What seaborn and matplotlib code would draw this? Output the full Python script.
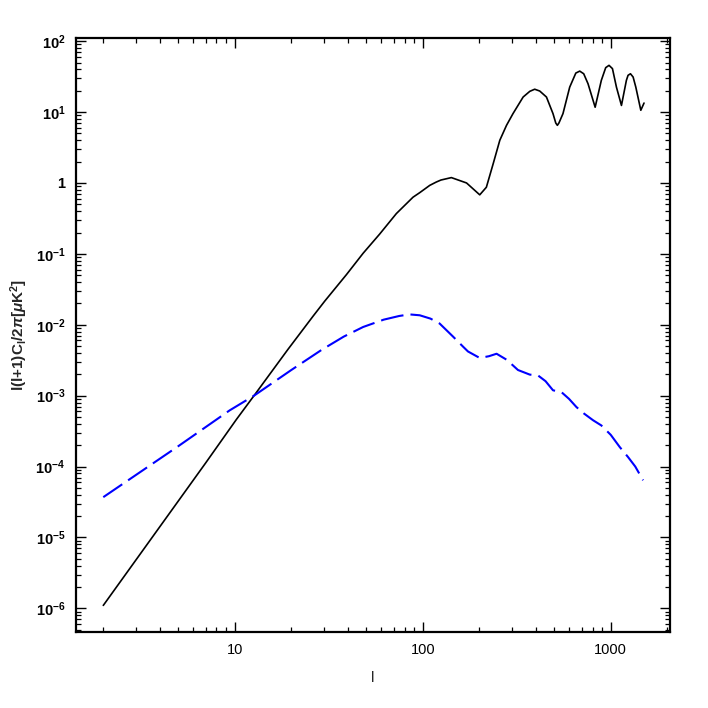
import matplotlib
matplotlib.use("Agg")
import matplotlib.pyplot as plt
import matplotlib.ticker as mticker
import numpy as np
import pandas as pd
import seaborn as sns

# values
ell_black = [2, 4, 7, 10.2, 12.67, 19.2, 26.1, 30.1, 39.3, 48.2, 59, 72.4, 88.8, 96.4, 109, 118,
             125, 142, 171, 201, 218, 237, 257, 279, 302, 342, 371, 394, 419, 455, 493, 510,
             520, 530, 557, 605, 652, 684, 718, 757, 826, 891, 940, 979, 1021, 1072, 1140,
             1211, 1236, 1273, 1315, 1359, 1445, 1503]
cl_black = [1.1e-6, 1.42e-5, 1.12e-4, 4.6e-4, 1.0e-3, 4.5e-3, 0.0132, 0.0215, 0.051, 0.102, 0.19,
            0.37, 0.63, 0.73, 0.925, 1.03, 1.1, 1.19, 1.0, 0.68, 0.87, 1.87, 4.0, 6.5, 9.5,
            16.3, 19.6, 21, 19.8, 16.3, 9.5, 7.0, 6.5, 7.0, 9.5, 22.5, 35.5, 37.8, 34.7, 25.1,
            11.7, 28, 42.3, 45.6, 41, 22.5, 12.4, 28, 33, 34.7, 31.2, 22.5, 10.6, 13.4]

ell_blue = [2, 5, 9.4, 12.67, 20, 28.9, 38, 48.2, 62, 75, 85, 96.4, 110, 123, 145, 164, 174, 201,
            225, 247, 280, 321, 371, 410, 450, 493, 547, 600, 657, 720, 805, 891, 1000, 1117,
            1236, 1350, 1486]
cl_blue = [3.7e-5, 1.93e-4, 6.2e-4, 1.0e-3, 2.3e-3, 4.4e-3, 6.8e-3, 9.3e-3, 0.0118, 0.0133,
           0.014, 0.0136, 0.0122, 0.0104, 0.0068, 0.0049, 0.0042, 0.0034, 0.0036, 0.0039,
           0.0032, 0.0023, 0.00198, 0.00193, 0.0016, 0.00119, 0.00112, 0.0009, 0.00069,
           0.00056, 0.00045, 0.00038, 0.00028, 0.000188, 0.000136, 0.0001, 0.000064]

df_black = pd.DataFrame({"l": ell_black, "cl": cl_black})
df_blue = pd.DataFrame({"l": ell_blue, "cl": cl_blue})

sns.set_style("ticks")
plt.rcParams["font.family"] = ["Liberation Sans", "DejaVu Sans"]
plt.rcParams["mathtext.fontset"] = "custom"
plt.rcParams["mathtext.rm"] = "Liberation Sans:bold"
plt.rcParams["mathtext.it"] = "Liberation Sans:italic:bold"

fig = plt.figure(figsize=(7.08, 7.08), dpi=100)
ax = fig.add_axes([0.108, 0.107, 0.838, 0.839])

sns.lineplot(data=df_black, x="l", y="cl", color="black", lw=1.2, estimator=None, ax=ax)
sns.lineplot(data=df_blue, x="l", y="cl", color="#0000ff", lw=1.5, estimator=None, ax=ax)
ax.lines[1].set_dashes((11, 3.4))

ax.set_xscale("log")
ax.set_yscale("log")
ax.set_xlim(1.44, 2060)
ax.set_ylim(4.6e-7, 110)


def ylab(v, pos):
    e = int(round(np.log10(v)))
    if e == 0:
        return "1"
    return r"$\mathregular{10^{%d}}$" % e


ax.yaxis.set_major_locator(mticker.FixedLocator([1e-6, 1e-5, 1e-4, 1e-3, 1e-2, 1e-1, 1, 10, 100]))
ax.yaxis.set_major_formatter(mticker.FuncFormatter(ylab))
yminor = [m * 10.0 ** e for e in range(-7, 2) for m in range(2, 10)]
ax.yaxis.set_minor_locator(mticker.FixedLocator(yminor))
ax.yaxis.set_minor_formatter(mticker.NullFormatter())
ax.xaxis.set_major_locator(mticker.FixedLocator([10, 100, 1000]))
ax.xaxis.set_major_formatter(mticker.FixedFormatter(["10", "100", "1000"]))
xminor = [m * 10.0 ** e for e in range(0, 4) for m in range(2, 10)]
ax.xaxis.set_minor_locator(mticker.FixedLocator(xminor))
ax.xaxis.set_minor_formatter(mticker.NullFormatter())

ax.tick_params(which="both", direction="in", top=True, right=True, bottom=True, left=True,
               colors="black")
ax.tick_params(which="major", length=7, width=1.0, labelsize=10.5, pad=8)
ax.tick_params(which="minor", length=3.6, width=0.9)
for lab in ax.get_yticklabels():
    lab.set_fontweight("bold")
for s in ax.spines.values():
    s.set_linewidth(1.6)
    s.set_color("black")

ax.set_xlabel("l", fontsize=11, labelpad=10)
ax.set_ylabel(r"l(l+1)C$_\mathregular{l}$/2$\pi$[$\mu$K$^\mathregular{2}$]", fontsize=11,
              fontweight="bold", labelpad=4)

fig.savefig("out.png", dpi=100, facecolor="white")
